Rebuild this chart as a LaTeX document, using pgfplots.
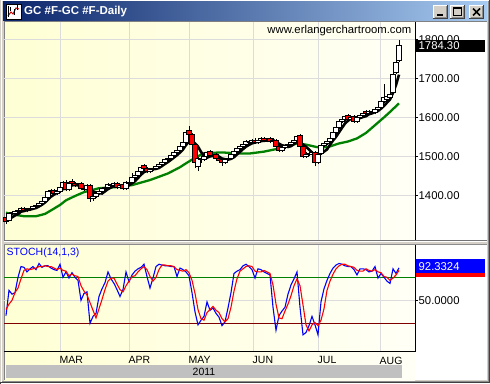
\documentclass[border=0pt]{standalone}
\usepackage{fontspec}
\setmainfont{Liberation Sans}
\usepackage{pgfplots}
\usepackage{pgfplotstable}
\pgfplotsset{compat=1.18}
\definecolor{winGray}{RGB}{212,208,200}
\definecolor{titleL}{RGB}{10,36,106}
\definecolor{titleR}{RGB}{166,202,240}
\definecolor{bgL}{RGB}{255,255,212}
\definecolor{bgR}{RGB}{255,255,246}
\definecolor{gridc}{RGB}{220,220,220}
\definecolor{maGreen}{RGB}{0,128,0}
\definecolor{darkRed}{RGB}{128,0,0}
\definecolor{yearGray}{RGB}{192,192,192}

\def\yscl{0.389286}
\pgfdeclareplotmark{candle}{%
  \pgfmathsetmacro\cb{(\copen-\cclose)*\yscl}%
  \pgfmathsetmacro\ch{(\chigh-\cclose)*\yscl}%
  \pgfmathsetmacro\cl{(\clow-\cclose)*\yscl}%
  \pgfsetlinewidth{0.9pt}\pgfsetstrokecolor{black}%
  \pgfpathmoveto{\pgfqpoint{0pt}{\cl pt}}%
  \pgfpathlineto{\pgfqpoint{0pt}{\ch pt}}%
  \pgfusepath{stroke}%
  \ifdim\cb pt>0pt \pgfsetfillcolor{red}\else\pgfsetfillcolor{white}\fi
  \pgfpathrectangle{\pgfqpoint{-2.2pt}{0pt}}{\pgfqpoint{4.4pt}{\cb pt}}%
  \pgfusepath{fill,stroke}%
}

\pgfplotstableread{
i o h l c
0 1343 1346 1326 1333
1 1336 1356 1333 1352
2 1356 1360 1348 1352
3 1352 1361 1348 1358
4 1358 1366 1354 1362
5 1362 1369 1358 1365
6 1366 1370 1356 1360
7 1360 1367 1356 1363
8 1363 1370 1359 1366
9 1366 1376 1362 1372
10 1372 1379 1368 1375
11 1375 1384 1371 1380
12 1380 1389 1376 1385
13 1385 1399 1381 1395
14 1395 1414 1391 1410
15 1410 1416 1405 1412
16 1412 1416 1401 1405
17 1405 1414 1401 1410
18 1410 1424 1406 1420
19 1420 1437 1416 1433
20 1434 1440 1410 1414
21 1414 1434 1410 1430
22 1436 1442 1426 1430
23 1430 1434 1421 1425
24 1425 1432 1421 1428
25 1431 1434 1414 1418
26 1418 1422 1411 1415
27 1415 1429 1411 1425
28 1425 1429 1382 1392
29 1392 1402 1386 1398
30 1398 1408 1394 1404
31 1404 1414 1400 1410
32 1410 1422 1406 1418
33 1418 1424 1414 1420
34 1420 1431 1416 1427
35 1427 1431 1420 1424
36 1424 1434 1420 1430
37 1430 1434 1416 1420
38 1420 1429 1416 1425
39 1428 1432 1414 1418
40 1418 1437 1414 1432
41 1430 1436 1426 1432
42 1432 1458 1428 1446
43 1446 1456 1442 1452
44 1452 1464 1448 1460
45 1460 1476 1456 1472
46 1476 1480 1464 1468
47 1468 1472 1456 1460
48 1460 1469 1456 1465
49 1465 1474 1461 1470
50 1470 1479 1466 1475
51 1475 1484 1471 1480
52 1480 1489 1476 1485
53 1485 1496 1481 1492
54 1492 1499 1488 1495
55 1495 1507 1491 1503
56 1503 1514 1499 1510
57 1510 1519 1506 1515
58 1515 1529 1511 1525
59 1525 1539 1521 1535
60 1535 1564 1531 1560
61 1567 1577 1545 1555
62 1555 1560 1526 1530
63 1530 1534 1470 1485
64 1475 1498 1462 1495
65 1495 1500 1484 1492
66 1492 1504 1488 1500
67 1500 1514 1496 1510
68 1512 1516 1498 1502
69 1502 1507 1494 1500
70 1505 1509 1490 1495
71 1495 1499 1484 1490
72 1492 1496 1476 1485
73 1485 1496 1481 1492
74 1492 1499 1488 1495
75 1495 1509 1491 1505
76 1505 1516 1501 1512
77 1512 1524 1508 1520
78 1520 1529 1516 1525
79 1525 1534 1521 1530
80 1530 1541 1526 1537
81 1535 1540 1530 1535
82 1535 1544 1531 1540
83 1542 1546 1531 1535
84 1535 1544 1531 1540
85 1540 1549 1536 1545
86 1545 1549 1536 1540
87 1540 1546 1536 1542
88 1545 1549 1534 1538
89 1538 1546 1534 1542
90 1540 1544 1520 1525
91 1525 1529 1511 1515
92 1515 1526 1511 1522
93 1522 1532 1518 1528
94 1528 1534 1524 1530
95 1530 1539 1526 1535
96 1535 1546 1531 1542
97 1542 1556 1538 1550
98 1553 1557 1520 1525
99 1525 1529 1496 1500
100 1500 1510 1496 1505
101 1505 1512 1500 1508
102 1505 1514 1501 1510
103 1510 1514 1474 1485
104 1485 1509 1481 1505
105 1508 1532 1504 1528
106 1528 1536 1524 1532
107 1532 1542 1528 1538
108 1538 1549 1534 1545
109 1545 1564 1541 1560
110 1560 1579 1556 1575
111 1575 1594 1571 1590
112 1590 1599 1586 1595
113 1595 1606 1591 1602
114 1605 1609 1591 1595
115 1595 1604 1591 1600
116 1602 1606 1586 1590
117 1590 1604 1586 1600
118 1600 1609 1596 1605
119 1605 1614 1601 1610
120 1615 1619 1606 1610
121 1610 1619 1606 1615
122 1615 1619 1608 1612
123 1612 1624 1608 1620
124 1620 1629 1616 1625
125 1625 1644 1621 1640
126 1640 1687 1636 1650
127 1645 1659 1641 1655
128 1652 1664 1648 1660
129 1665 1714 1661 1710
130 1715 1744 1711 1740
131 1745 1798 1741 1784.3
}\candles

\pgfplotstableread{
i m
0 1338
1 1340
2 1343
3 1348
4 1351.4
5 1357.8
6 1359.4
7 1361.6
8 1363.2
9 1365.2
10 1367.2
11 1371.2
12 1375.6
13 1381.4
14 1389
15 1396.4
16 1401.4
17 1406.4
18 1411.4
19 1416
20 1416.4
21 1421.4
22 1425.4
23 1426.4
24 1425.4
25 1426.2
26 1423.2
27 1422.2
28 1415.6
29 1409.6
30 1406.8
31 1405.8
32 1404.4
33 1410
34 1415.8
35 1419.8
36 1423.8
37 1424.2
38 1425.2
39 1423.4
40 1425
41 1425.4
42 1430.6
43 1436
44 1444.4
45 1452.4
46 1459.6
47 1462.4
48 1465
49 1467
50 1467.6
51 1470
52 1475
53 1480.4
54 1485.4
55 1491
56 1497
57 1503
58 1509.6
59 1517.6
60 1529
61 1538
62 1541
63 1533
64 1525
65 1511.4
66 1500.4
67 1496.4
68 1499.8
69 1500.8
70 1501.4
71 1499.4
72 1494.4
73 1492.4
74 1491.4
75 1493.4
76 1497.8
77 1504.8
78 1511.4
79 1518.4
80 1524.8
81 1529.4
82 1533.4
83 1535.4
84 1537.4
85 1539
86 1540
87 1540.4
88 1541
89 1541.4
90 1537.4
91 1532.4
92 1528.4
93 1526.4
94 1524
95 1526
96 1531.4
97 1537
98 1536.4
99 1530.4
100 1524.4
101 1517.6
102 1509.6
103 1501.6
104 1502.6
105 1507.2
106 1512
107 1517.6
108 1529.6
109 1540.6
110 1550
111 1561.6
112 1573
113 1584.4
114 1591.4
115 1596.4
116 1596.4
117 1597.4
118 1598
119 1601
120 1603
121 1608
122 1610.4
123 1613.4
124 1616.4
125 1622.4
126 1629.4
127 1638
128 1646
129 1663
130 1683
131 1709.8
}\mafast

\pgfplotstableread{
i m
0 1355
3 1350
6 1346
10 1346
13 1352
15 1361
18 1375
20 1387
23 1398
26 1408
31 1418
37 1421
42 1426
48 1439
54 1456
58 1472
60 1482
63 1496
66 1508
72 1510
78 1507
81 1507
86 1512
91 1520
97 1533
100 1530
104 1523
107 1523
111 1533
114 1538
117 1546
120 1560
123 1580
126 1600
128 1614
131 1636
}\maslow

\pgfplotstableread{
i k d
0 30 38
1 63 45
2 58 50
3 60 60
4 80 66
5 94 78
6 93 89
7 87 91
8 91 90
9 94 91
10 90 92
11 98 94
12 93 94
13 95 95
14 95 94
15 92 94
16 90 92
17 89 90
18 97 92
19 80 89
20 87 88
21 79 82
22 86 84
23 80 82
24 76 81
25 50 69
26 59 62
27 61 57
28 20 47
29 29 37
30 33 27
31 55 39
32 65 51
33 73 64
34 87 75
35 78 79
36 72 79
37 64 71
38 55 64
39 64 61
40 87 69
41 74 75
42 83 81
43 88 82
44 91 87
45 93 91
46 97 94
47 81 90
48 66 81
49 79 75
50 94 80
51 97 90
52 96 96
53 95 96
54 95 95
55 94 95
56 94 94
57 81 90
58 92 89
59 90 88
60 87 90
61 82 86
62 60 76
63 35 59
64 18 38
65 24 26
66 29 24
67 48 34
68 37 38
69 40 42
70 33 37
71 28 34
72 17 26
73 22 22
74 40 26
75 60 41
76 85 62
77 88 78
78 90 88
79 95 91
80 97 94
81 94 95
82 90 94
83 79 88
84 91 87
85 90 87
86 87 89
87 85 87
88 83 85
89 41 70
90 11 45
91 30 27
92 36 26
93 41 36
94 58 45
95 70 56
96 78 69
97 87 78
98 41 69
99 5 44
100 8 18
101 17 10
102 29 18
103 18 21
104 5 17
105 48 24
106 65 39
107 76 63
108 85 75
109 92 84
110 96 91
111 98 95
112 97 97
113 95 97
114 94 95
115 94 94
116 90 93
117 83 89
118 91 88
119 91 88
120 90 91
121 87 89
122 88 88
123 94 90
124 79 87
125 85 86
126 80 81
127 75 80
128 72 76
129 91 79
130 85 83
131 92.33 89
}\stoch

\begin{document}
\begin{tikzpicture}[x=1pt,y=1pt]
\useasboundingbox (0,0) rectangle (490,383);
% window frame
\fill[winGray] (0,0) rectangle (490,383);
\draw[white,line width=1pt] (1,1) -- (1,382) -- (489,382);
\draw[black!75,line width=1pt] (0.5,0) -- (0.5,0.5) -- (489.5,0.5) -- (489.5,383);
\draw[black!45,line width=1pt] (2,1.5) -- (488.5,1.5) -- (488.5,382);
% content
\fill[white] (4,3) rectangle (487,361);
\shade[left color=bgL,right color=bgR] (4,3) rectangle (415,361);
\draw[black!50,line width=1pt] (4,3) -- (4,361.5) -- (487,361.5);
% title bar
\shade[left color=titleL,right color=titleR] (3,362) rectangle (487,381);
\fill[white] (6,364) rectangle (21,379);
\draw[black,line width=0.8pt] (6,364) rectangle (21,379);
\draw[red!80!black,line width=1pt] (8,367) -- (11,371) -- (13,369) -- (16,375) -- (19,374);
\draw[black,line width=0.6pt] (8,366) -- (8,377) (10,372)--(10,376) (14,368)--(14,374) (17,373)--(17,378);
\node[anchor=west,inner sep=0pt,text=white,font=\bfseries\fontsize{11.5}{13}\selectfont] at (24,371) {GC \#F-GC \#F-Daily};
% buttons
\foreach \bx in {433,450,469}{
  \fill[winGray] (\bx,364) rectangle (\bx+15,378);
  \draw[white,line width=1pt] (\bx+0.5,364) -- (\bx+0.5,377.5) -- (\bx+15,377.5);
  \draw[black!75,line width=1pt] (\bx,364.5) -- (\bx+14.5,364.5) -- (\bx+14.5,378);
  \draw[black!45,line width=1pt] (\bx+1.5,365.5) -- (\bx+13.5,365.5) -- (\bx+13.5,377);
}
\draw[black,line width=2pt] (437,368) -- (443,368);
\draw[black,line width=1pt] (453.5,367.5) rectangle (461.5,375.5);
\draw[black,line width=2pt] (453.5,375) -- (461.5,375);
\draw[black,line width=1.5pt] (473,367.5) -- (480,374.5) (473,374.5) -- (480,367.5);
% separator between panels
\fill[winGray] (4,138) rectangle (487,143);
\draw[black!55,line width=1pt] (4,142.5) -- (487,142.5);
\draw[white,line width=1pt] (4,141.5) -- (487,141.5);
\draw[black!45,line width=1.2pt] (4,138.6) -- (487,138.6);
% year bar
\fill[yearGray] (6,5) rectangle (402,18);
\node[font=\fontsize{10.5}{12}\selectfont,inner sep=0pt] at (204,11.3) {2011};

% main price panel
\begin{axis}[
  at={(4pt,143pt)}, anchor=south west, scale only axis,
  width=411pt, height=218pt,
  xmin=-0.6667, xmax=136.3333, ymin=1285, ymax=1845,
  axis line style={draw=none},
  xtick={18,41,61,82.333,104,124.667}, xticklabels={},
  x tick style={draw=none},
  ytick={1400,1500,1600,1700,1800},
  ytick pos=right, yticklabel pos=right,
  tick align=outside, major tick length=3pt,
  y tick style={black,line width=0.8pt},
  xmajorgrids, ymajorgrids,
  grid style={gridc,line width=1pt},
  /pgf/number format/.cd, fixed, fixed zerofill, precision=2, 1000 sep={}, assume math mode=true,
  /pgfplots/.cd,
  yticklabel style={font=\fontsize{11.3}{13}\selectfont, anchor=west, inner sep=0pt, xshift=0.5pt},
  clip=true,
]
\addplot[maGreen, line width=2.3pt] table[x=i,y=m] {\maslow};
\addplot[black, line width=2.6pt] table[x=i,y=m] {\mafast};
\addplot[scatter, only marks, mark=candle, point meta=y,
  scatter/use mapped color={draw=black,fill=white},
  visualization depends on={\thisrow{o}\as\copen},
  visualization depends on={\thisrow{h}\as\chigh},
  visualization depends on={\thisrow{l}\as\clow},
  visualization depends on={\thisrow{c}\as\cclose},
] table[x=i,y=c] {\candles};
\end{axis}

% stochastic panel
\begin{axis}[
  at={(4pt,32pt)}, anchor=south west, scale only axis,
  width=411pt, height=106pt,
  xmin=-0.6667, xmax=136.3333, ymin=-16.1, ymax=122.1,
  axis line style={draw=none},
  xtick={18,41,61,82.333,104,124.667},
  xticklabels={MAR,APR,MAY,JUN,JUL,AUG},
  xtick pos=bottom,
  x tick style={draw=none},
  xticklabel style={font=\fontsize{10.5}{12}\selectfont, anchor=north west, inner sep=0pt, yshift=-2.5pt, xshift=-0.5pt},
  ytick={50}, ytick pos=right, yticklabel pos=right,
  tick align=outside, major tick length=3pt,
  y tick style={black,line width=0.8pt},
  xmajorgrids, ymajorgrids,
  grid style={gridc,line width=1pt},
  /pgf/number format/.cd, fixed, fixed zerofill, precision=4, 1000 sep={}, assume math mode=true,
  /pgfplots/.cd,
  yticklabel style={font=\fontsize{11.3}{13}\selectfont, anchor=west, inner sep=0pt, xshift=0.5pt},
]
\addplot[maGreen, line width=1pt] coordinates {(-1,80) (137,80)};
\addplot[darkRed, line width=1pt] coordinates {(-1,20) (137,20)};
\addplot[blue, line width=1.1pt] table[x=i,y=k] {\stoch};
\addplot[red, line width=1.1pt] table[x=i,y=d] {\stoch};
\end{axis}

% axis frame lines
\draw[black,line width=1pt] (415,143) -- (415,361);
\draw[black,line width=1pt] (4,32) -- (415,32) -- (415,138);
% labels
\node[anchor=east,inner sep=0pt,font=\fontsize{11.3}{13}\selectfont] at (411.5,352.3) {www.erlangerchartroom.com};
\node[anchor=west,inner sep=0pt,text=blue,font=\fontsize{10.5}{12}\selectfont] at (6.5,130.3) {STOCH(14,1,3)};
\fill[black] (415.5,331.3) rectangle (485,343);
\node[anchor=west,inner sep=0pt,text=white,font=\fontsize{11.3}{13}\selectfont] at (418.5,337.2) {1784.30};
\fill[red] (415.5,106.3) rectangle (485,110);
\fill[blue] (415.5,110) rectangle (485,123.5);
\node[anchor=west,inner sep=0pt,text=white,font=\fontsize{11.3}{13}\selectfont] at (418.5,116.8) {92.3324};
\end{tikzpicture}
\end{document}
